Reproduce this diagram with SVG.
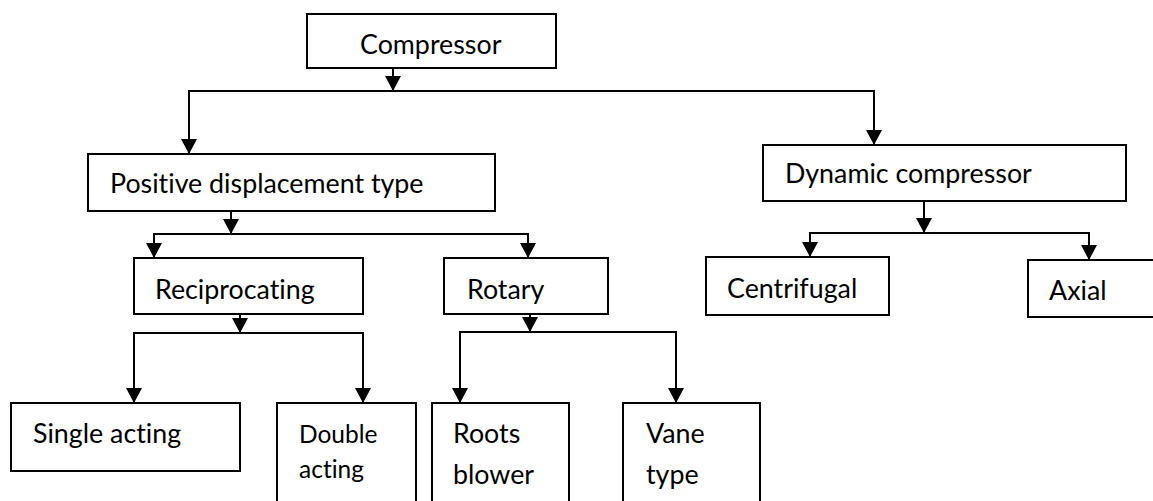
<svg xmlns="http://www.w3.org/2000/svg" width="1153" height="501" viewBox="0 0 1153 501">
<defs>
<marker id="ah" markerUnits="userSpaceOnUse" markerWidth="16" markerHeight="16" viewBox="0 0 16 16" refX="15" refY="8" orient="auto">
<path d="M0,0 L15,8 L0,16 Z" fill="#000"/>
</marker>
</defs>
<style>
.box{fill:#fff;stroke:#000;stroke-width:2}
.t{font-family:Lato,"Liberation Sans",sans-serif;font-size:26.8px;fill:#000;font-variant-ligatures:none;font-feature-settings:"liga" 0,"dlig" 0}
.s{font-size:24.5px}
.c line{stroke:#000;stroke-width:2;fill:none}
</style>
<rect width="1153" height="501" fill="#fff"/>
<g class="c" id="connectors">
<line x1="393" y1="68" x2="393" y2="91" marker-end="url(#ah)"/>
<line x1="188" y1="91" x2="875" y2="91"/>
<line x1="189" y1="91" x2="189" y2="154" marker-end="url(#ah)"/>
<line x1="874" y1="91" x2="874" y2="145" marker-end="url(#ah)"/>
<line x1="231" y1="211" x2="231" y2="234" marker-end="url(#ah)"/>
<line x1="153" y1="234" x2="529" y2="234"/>
<line x1="154" y1="234" x2="154" y2="258" marker-end="url(#ah)"/>
<line x1="528" y1="234" x2="528" y2="258" marker-end="url(#ah)"/>
<line x1="924" y1="201" x2="924" y2="233" marker-end="url(#ah)"/>
<line x1="809" y1="233" x2="1090" y2="233"/>
<line x1="810" y1="233" x2="810" y2="257" marker-end="url(#ah)"/>
<line x1="1089" y1="233" x2="1089" y2="260" marker-end="url(#ah)"/>
<line x1="240" y1="310" x2="240" y2="333" marker-end="url(#ah)"/>
<line x1="133" y1="333" x2="364" y2="333"/>
<line x1="134" y1="333" x2="134" y2="403" marker-end="url(#ah)"/>
<line x1="363" y1="333" x2="363" y2="403" marker-end="url(#ah)"/>
<line x1="530" y1="310" x2="530" y2="332" marker-end="url(#ah)"/>
<line x1="459" y1="332" x2="677" y2="332"/>
<line x1="460" y1="332" x2="460" y2="403" marker-end="url(#ah)"/>
<line x1="676" y1="332" x2="676" y2="403" marker-end="url(#ah)"/>
</g>
<g id="compressor"><rect class="box" x="307" y="14" width="249" height="54"/><text class="t" x="360" y="54">Compressor</text></g>
<g id="positive"><rect class="box" x="88" y="154" width="407" height="57"/><text class="t" x="110" y="193">Positive displacement type</text></g>
<g id="dynamic"><rect class="box" x="763" y="145" width="363" height="56"/><text class="t" x="785" y="183">Dynamic compressor</text></g>
<g id="reciprocating"><rect class="box" x="134" y="258" width="229" height="56"/><text class="t" x="155" y="299">Reciprocating</text></g>
<g id="rotary"><rect class="box" x="444" y="258" width="164" height="56"/><text class="t" x="467" y="299">Rotary</text></g>
<g id="centrifugal"><rect class="box" x="706" y="257" width="183" height="58"/><text class="t" x="727" y="298">Centrifugal</text></g>
<g id="axial"><rect class="box" x="1028" y="260" width="140" height="57"/><text class="t" x="1049" y="300">Axial</text></g>
<g id="single"><rect class="box" x="11" y="403" width="229" height="68"/><text class="t" x="33" y="443">Single acting</text></g>
<g id="double"><rect class="box" x="277" y="403" width="139" height="110"/><text class="t s" x="299" y="443">Double</text><text class="t s" x="299" y="478">acting</text></g>
<g id="roots"><rect class="box" x="432" y="403" width="137" height="110"/><text class="t" x="453" y="443">Roots</text><text class="t" x="453" y="484">blower</text></g>
<g id="vane"><rect class="box" x="623" y="403" width="137" height="110"/><text class="t" x="646" y="443">Vane</text><text class="t" x="646" y="484">type</text></g>
</svg>
